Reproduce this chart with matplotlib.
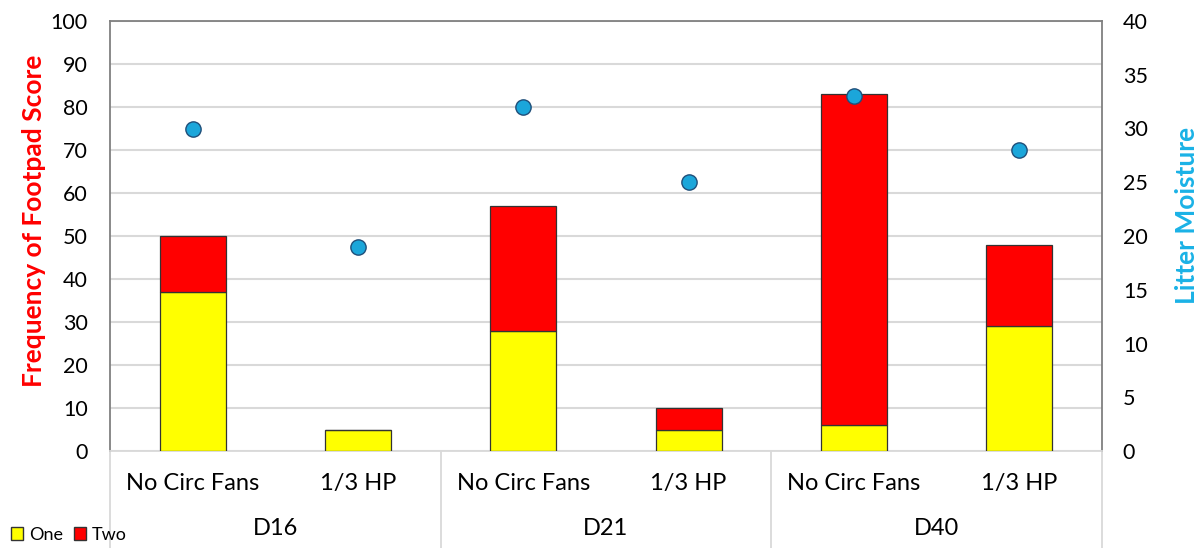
import numpy as np
import matplotlib
matplotlib.use("Agg")
import matplotlib.pyplot as plt
from matplotlib.patches import Patch

plt.rcParams['font.family'] = ['Lato', 'DejaVu Sans']

# dados
treatments = ["No Circ Fans", "1/3 HP", "No Circ Fans", "1/3 HP", "No Circ Fans", "1/3 HP"]
days = ["D16", "D21", "D40"]
score_one = [37, 5, 28, 5, 6, 29]
score_two = [13, 0, 29, 5, 77, 19]
litter_moisture = [30, 19, 32, 25, 33, 28]

fig = plt.figure(figsize=(12.03, 5.48), dpi=100)
ax = fig.add_axes([110/1203, 1 - 451/548, 992/1203, 430/548])

x = np.arange(len(treatments))
ax.bar(x, score_one, width=0.4, color='#ffff00', edgecolor='#333333', linewidth=0.9, zorder=3)
ax.bar(x, score_two, width=0.4, bottom=score_one, color='#ff0000', edgecolor='#333333',
       linewidth=0.9, zorder=3)

ax.set_xlim(-0.5, len(treatments) - 0.5)
ax.set_ylim(0, 100)
ax.set_yticks(range(0, 101, 10))
ax.yaxis.grid(True, color='#d9d9d9', linewidth=1.5, zorder=0)
ax.set_axisbelow(True)
ax.tick_params(axis='y', length=0, pad=16, labelsize=15.5)
ax.set_xticks(x)
ax.set_xticklabels(treatments)
ax.tick_params(axis='x', length=0, pad=16, labelsize=17)

for s in ['left', 'top', 'right']:
    ax.spines[s].set_color('#808080')
    ax.spines[s].set_linewidth(1.3)
ax.spines['bottom'].set_color('#d9d9d9')
ax.spines['bottom'].set_linewidth(1.3)

# eixo secundario
ax2 = ax.twinx()
ax2.set_ylim(0, 40)
ax2.set_yticks(range(0, 41, 5))
ax2.tick_params(axis='y', length=0, pad=15, labelsize=15.5)
for s in ax2.spines.values():
    s.set_visible(False)
ax2.plot(x, litter_moisture, linestyle='none', marker='o', markersize=11,
         markerfacecolor='#1ba6da', markeredgecolor='#1f4e79', markeredgewidth=1.0,
         zorder=5, clip_on=False)

# titulos dos eixos
fig.text(34/1203, 1 - 221/548, "Frequency of Footpad Score", color='#ff0000', fontsize=19,
         fontweight='bold', rotation=90, ha='center', va='center')
fig.text(1187/1203, 1 - 215/548, "Litter Moisture", color='#1ab2e6', fontsize=19,
         fontweight='bold', rotation=90, ha='center', va='center')

# rotulos de grupo e separadores
trans = ax.get_xaxis_transform()
for k in range(len(days) + 1):
    xs = -0.5 + 2 * k
    ax.plot([xs, xs], [0, -0.23], transform=trans, color='#d9d9d9', linewidth=1.3,
            clip_on=False)
for k, d in enumerate(days):
    ax.text(0.5 + 2 * k, -0.181, d, transform=trans, ha='center', va='center',
            fontsize=17)

handles = [Patch(facecolor='#ffff00', edgecolor='#333333', label='One'),
           Patch(facecolor='#ff0000', edgecolor='#333333', label='Two')]
fig.legend(handles=handles, loc='lower left', bbox_to_anchor=(0.0, -0.01), ncol=2,
           frameon=False, fontsize=13, handlelength=0.7, handleheight=0.7,
           handletextpad=0.3, columnspacing=0.6, borderaxespad=0.2)

fig.savefig("out.png", dpi=100)
